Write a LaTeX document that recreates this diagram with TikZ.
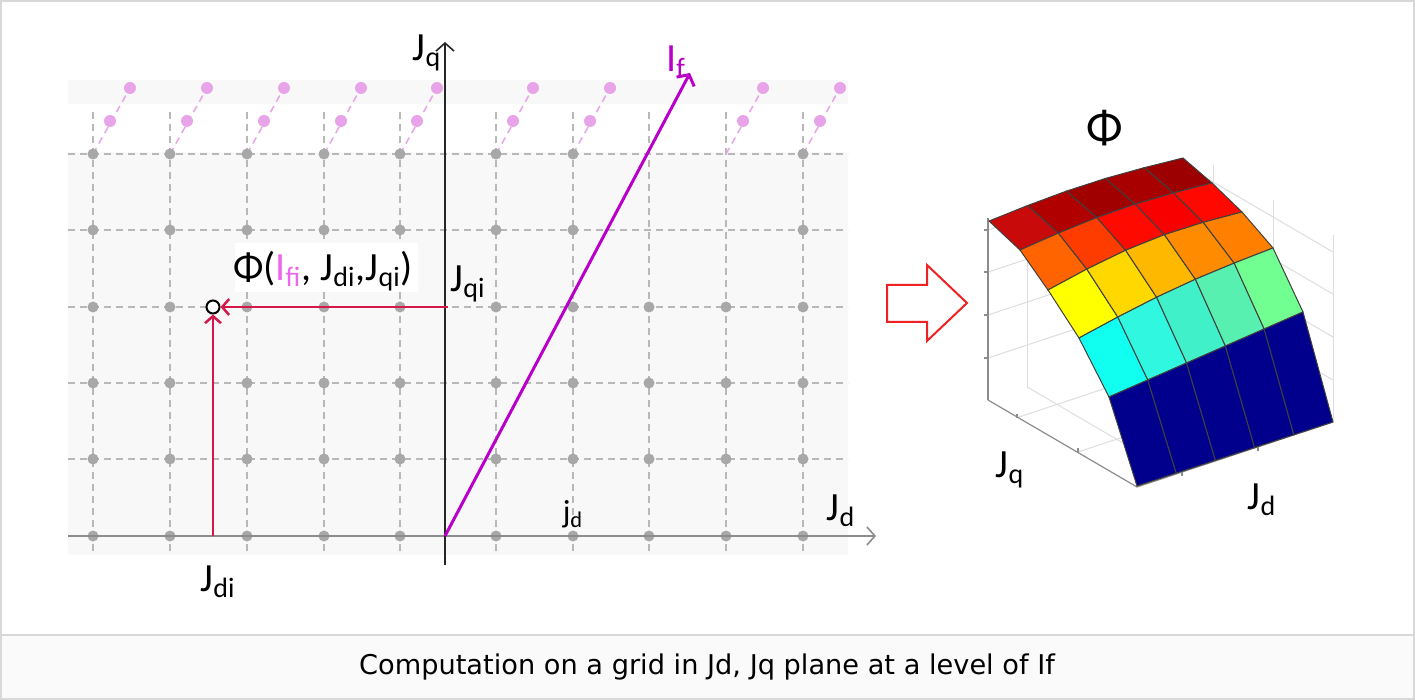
\documentclass[tikz,border=0pt]{standalone}
\usepackage{fontspec}
\setmainfont{Carlito}
\newfontfamily\capfont{DejaVu Sans}
\usepackage{xcolor}
\usepackage{tikz}
\usetikzlibrary{arrows.meta}

\definecolor{gridgray}{HTML}{B8B8B8}
\definecolor{dotgray}{HTML}{A8A8A8}
\definecolor{pinkish}{HTML}{E8A4E8}
\definecolor{ifpurple}{HTML}{B800C8}
\definecolor{ifipink}{HTML}{EE66EE}
\definecolor{jred}{HTML}{D4184A}
\definecolor{bgplane}{HTML}{F8F8F8}
\definecolor{framegray}{HTML}{D8D8D8}
\definecolor{capbg}{HTML}{FAFAFA}
\definecolor{wallgray}{HTML}{DDDDDD}
\definecolor{axgray}{HTML}{8C8C8C}
\definecolor{hollowred}{HTML}{EE2222}
% surface colours, row by row
\definecolor{s00}{HTML}{C80A0A}\definecolor{s01}{HTML}{B00000}\definecolor{s02}{HTML}{A00000}\definecolor{s03}{HTML}{A80000}\definecolor{s04}{HTML}{9C0000}
\definecolor{s10}{HTML}{FF6400}\definecolor{s11}{HTML}{FF3C00}\definecolor{s12}{HTML}{FF0A00}\definecolor{s13}{HTML}{F80000}\definecolor{s14}{HTML}{FF0800}
\definecolor{s20}{HTML}{FFFF00}\definecolor{s21}{HTML}{FFD800}\definecolor{s22}{HTML}{FFB800}\definecolor{s23}{HTML}{FF8C00}\definecolor{s24}{HTML}{FF8000}
\definecolor{s30}{HTML}{10FFF0}\definecolor{s31}{HTML}{30F8E0}\definecolor{s32}{HTML}{40F0C8}\definecolor{s33}{HTML}{58F0B0}\definecolor{s34}{HTML}{70FF90}
\definecolor{s40}{HTML}{00008C}\definecolor{s41}{HTML}{00008C}\definecolor{s42}{HTML}{00008C}\definecolor{s43}{HTML}{00008C}\definecolor{s44}{HTML}{00008C}

\begin{document}
\begin{tikzpicture}[x=0.5pt, y=-0.5pt,
gridline/.style={gridgray, line width=0.75pt, dash pattern=on 3.5pt off 2.5pt},
pinkline/.style={pinkish, line width=0.75pt, dash pattern=on 3.5pt off 2.5pt},
lbl/.style={inner sep=0pt, font=\fontsize{20}{24}\selectfont},
redarrow/.style={jred, line width=1.25pt, -{Straight Barb[length=3.5pt,width=8pt]}},
wall/.style={wallgray, line width=0.5pt},
axis3d/.style={axgray, line width=0.6pt},
cell/.style={draw=black!75, line width=0.5pt}
]
\useasboundingbox (0,0) rectangle (1415,700);
% frame and caption band
\fill[capbg] (1,635) rectangle (1414,699);
\draw[framegray, line width=0.75pt] (1,1) rectangle (1414,699);
\draw[framegray, line width=0.75pt] (1,635) -- (1414,635);
\fill[bgplane] (68,80) rectangle (848,104);
\fill[bgplane] (68,152) rectangle (848,555);

% grid in the Jd, Jq plane
\foreach \gx in {93,170,247,324,400,496,573,649,726,803}
  \draw[gridline] (\gx,112) -- (\gx,555);
\foreach \gy in {154,230,307,383,459}
  \draw[gridline] (68,\gy) -- (848,\gy);
\foreach \gx in {93,170,247,324,400,496,573,726,803}{
  \draw[pinkline] (\gx,154) -- ++(37,-66);
  \fill[pinkish] (\gx+17,121) circle (3pt) (\gx+37,88) circle (3pt);
}
\foreach \gx in {93,170,247,324,400,496,573,649,726,803}
  \foreach \gy in {307,383,459,536}
    \fill[dotgray] (\gx,\gy) circle (2.75pt);
\foreach \gx in {93,170,247,324,400,496,573,803}
  \foreach \gy in {154,230}
    \fill[dotgray] (\gx,\gy) circle (2.75pt);

% axes
\coordinate (xs) at (68,536);
\coordinate (xe) at (876,536);
\coordinate (ys) at (445,565);
\coordinate (ye) at (445,42);
\draw[axgray, line width=0.8pt, -{Straight Barb[length=4pt,width=9pt]}] (xs) -- (xe);
\draw[black!85, line width=0.8pt, -{Straight Barb[length=4pt,width=9pt]}] (ys) -- (ye);
\node[lbl] (jq) at (427,53) {J\textsubscript{q}};
\node[lbl] (jd) at (841,511) {J\textsubscript{d}};
\node[lbl, font=\fontsize{16}{19}\selectfont] (jdsmall) at (573,514) {j\textsubscript{d}};

% If line
\coordinate (o) at (445,536);
\coordinate (iftip) at (690,73);
\draw[ifpurple, line width=1.5pt, -{Straight Barb[length=4pt,width=10pt]}] (o) -- (iftip);
\node[lbl, text=ifpurple] (iflbl) at (676,62) {I\textsubscript{f}};

% the point being computed
\node[circle, draw=black, line width=1pt, fill=white, minimum size=6.5pt, inner sep=0pt] (pt) at (213,307) {};
\coordinate (qi) at (448,307);
\coordinate (di) at (213,536);
\draw[redarrow] (qi) -- (pt);
\draw[redarrow] (di) -- (pt);
\node[lbl] (jqi) at (468,284) {J\textsubscript{qi}};
\node[lbl] (jdi) at (218,582) {J\textsubscript{di}};
\fill[white] (235,243) rectangle (418,292);
\node[lbl] (philbl) at (323,271) {Φ(\textcolor{ifipink}{I\textsubscript{fi}}, J\textsubscript{di},J\textsubscript{qi})};

% hollow arrow
\draw[hollowred, line width=1pt, fill=white] (887,285) -- (927,285) -- (927,265) -- (967,303) -- (927,341) -- (927,322) -- (887,322) -- cycle;

% 3d box behind the surface
\foreach \f in {0.231,0.467,0.703,0.934}{
  \draw[wall] (988,400-182*\f) -- (1184,335-182*\f) -- (1333,422-182*\f);
  \draw[axis3d] (984,400-182*\f) -- (988,400-182*\f);
}
\foreach \t in {0.2,0.6}{
  \draw[wall] (988+196*\t,400-65*\t) -- ++(0,-182);
  \draw[wall] (1184+149*\t,335+87*\t) -- ++(0,-187);
  \draw[wall] (988+149*\t,400+87*\t) -- ++(196,-65);
  \draw[wall] (1137+196*\t,487-65*\t) -- ++(-149,-87);
}
\draw[wall] (1333,422) -- (1333,235);
\draw[axis3d] (988,400) -- (988,218);
\draw[axis3d] (988,400) -- (1137,487) -- (1333,422);
\draw[axis3d] (1017,418) -- ++(0,-4) (1078,452) -- ++(0,-4);
\draw[axis3d] (1182,472) -- ++(0,4) (1258,447) -- ++(0,4);

% surface
\foreach \i/\lx/\ly/\rx/\ry/\bw in {0/989/221/1183/158/5, 1/1020/250/1212/183/6, 2/1048/290/1242/212/9, 3/1079/338/1273/248/5, 4/1109/397/1303/312/0, 5/1137/486/1333/422/0}{
  \foreach \j in {0,...,5}
    \coordinate (v\i\j) at ({\lx+(\rx-\lx)*\j/5}, {\ly+(\ry-\ly)*\j/5-\bw*sin(36*\j)});
}
\foreach \r in {0,...,4}{
  \foreach \c in {0,...,4}{
    \pgfmathtruncatemacro{\rn}{\r+1}
    \pgfmathtruncatemacro{\cn}{\c+1}
    \filldraw[cell, fill=s\r\c] (v\r\c) -- (v\r\cn) -- (v\rn\cn) -- (v\rn\c) -- cycle;
  }
}
\node[lbl, font=\fontsize{24}{28}\selectfont] (phibig) at (1105,128) {Φ};
\node[lbl] (jq3d) at (1010,470) {J\textsubscript{q}};
\node[lbl] (jd3d) at (1262,500) {J\textsubscript{d}};

% caption
\node[font=\capfont\fontsize{13.6}{16}\selectfont] (caption) at (707,667) {Computation on a grid in Jd, Jq plane at a level of If};
\end{tikzpicture}
\end{document}
